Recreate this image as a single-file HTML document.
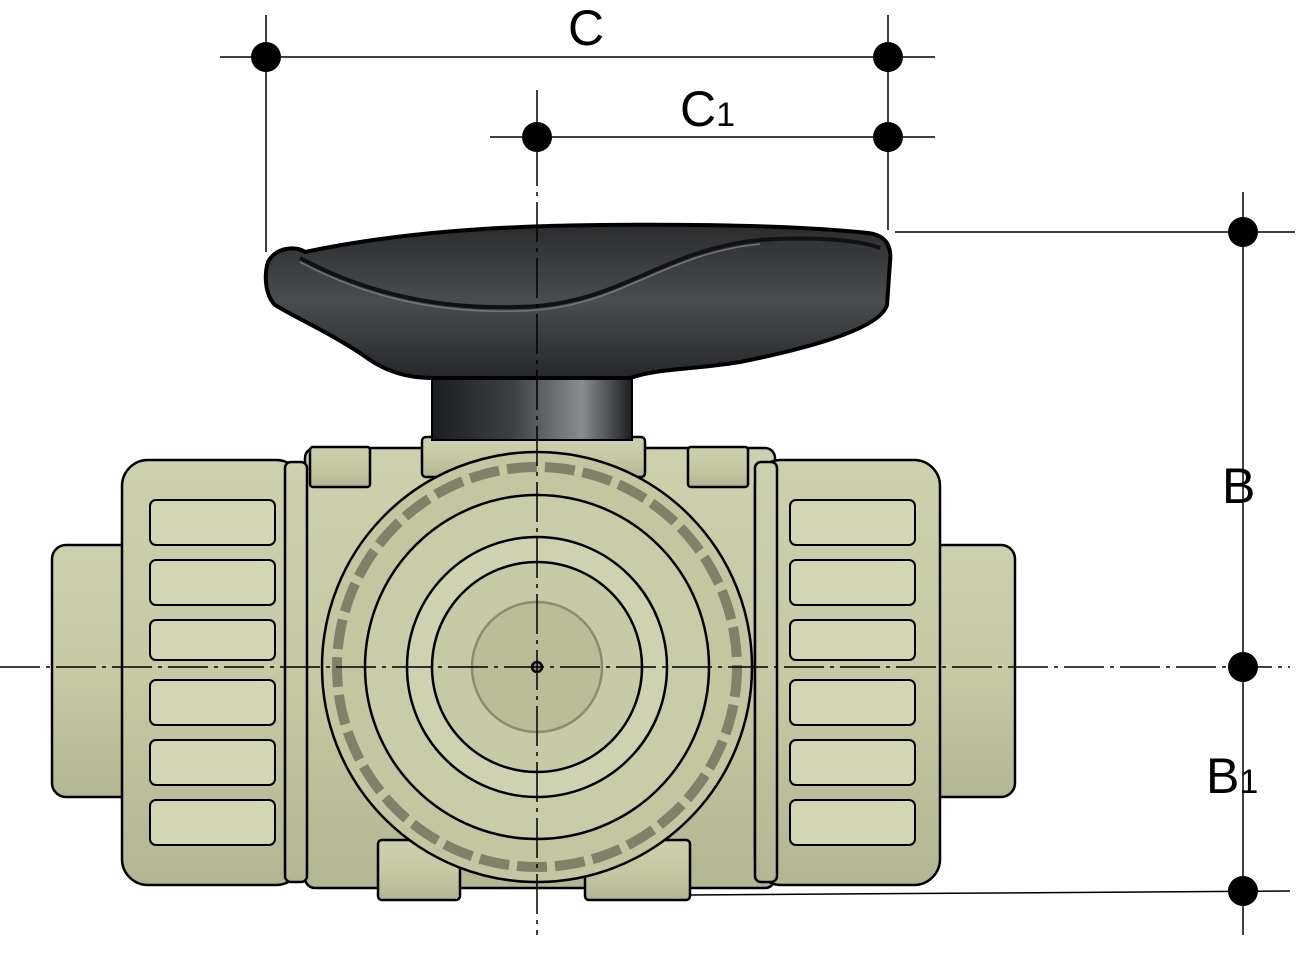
<!DOCTYPE html>
<html><head><style>html,body{margin:0;padding:0;background:#fff}svg{display:block}</style></head>
<body>
<svg width="1313" height="974" viewBox="0 0 1313 974" xmlns="http://www.w3.org/2000/svg">
<defs>
<linearGradient id="hg" x1="0" y1="0" x2="0" y2="1"><stop offset="0" stop-color="#2a2c2e"/><stop offset="0.5" stop-color="#4a4d50"/><stop offset="1" stop-color="#25272a"/></linearGradient>
<linearGradient id="sg" x1="0" y1="0" x2="1" y2="0"><stop offset="0" stop-color="#1c1d1f"/><stop offset="0.4" stop-color="#3d4043"/><stop offset="0.75" stop-color="#8a8d90"/><stop offset="1" stop-color="#1c1d1f"/></linearGradient>
<linearGradient id="bg" x1="0" y1="0" x2="0" y2="1"><stop offset="0" stop-color="#cdd0ae"/><stop offset="0.5" stop-color="#c6c9a4"/><stop offset="1" stop-color="#b3b692"/></linearGradient>
</defs>
<g stroke="#000" stroke-width="2.5" fill="url(#bg)">
<!-- end tubes -->
<rect x="52" y="545" width="90" height="252" rx="14"/>
<rect x="925" y="545" width="90" height="252" rx="14"/>
<!-- central body -->
<rect x="305" y="448" width="470" height="440" rx="10"/>
<rect x="378" y="840" width="82" height="60" rx="4"/>
<rect x="585" y="840" width="105" height="60" rx="4"/>
<!-- nuts -->
<rect x="122" y="460" width="180" height="425" rx="26"/>
<rect x="755" y="460" width="185" height="425" rx="26"/>
<rect x="285" y="462" width="22" height="420" rx="6"/>
<rect x="755" y="462" width="22" height="420" rx="6"/>
<!-- top nub -->
<rect x="422" y="437" width="223" height="40" rx="4"/>
<rect x="310" y="447" width="60" height="40" rx="3"/>
<rect x="688" y="447" width="60" height="40" rx="3"/>
</g>
<!-- nut ribs -->
<g stroke="#000" stroke-width="2" fill="#d3d6b4">
<rect x="150" y="500" width="125" height="45" rx="6"/>
<rect x="150" y="560" width="125" height="45" rx="6"/>
<rect x="150" y="620" width="125" height="40" rx="6"/>
<rect x="150" y="680" width="125" height="45" rx="6"/>
<rect x="150" y="740" width="125" height="45" rx="6"/>
<rect x="150" y="800" width="125" height="45" rx="6"/>
<rect x="790" y="500" width="125" height="45" rx="6"/>
<rect x="790" y="560" width="125" height="45" rx="6"/>
<rect x="790" y="620" width="125" height="40" rx="6"/>
<rect x="790" y="680" width="125" height="45" rx="6"/>
<rect x="790" y="740" width="125" height="45" rx="6"/>
<rect x="790" y="800" width="125" height="45" rx="6"/>
</g>
<!-- gear -->
<g stroke="#000" stroke-width="2.5">
<circle cx="537" cy="667" r="215" fill="#c3c6a1"/>
<circle cx="537" cy="667" r="200" fill="none" stroke-dasharray="30 8" stroke-width="10" stroke-opacity="0.35"/>
<circle cx="537" cy="667" r="172" fill="#c9cca8"/>
<circle cx="537" cy="667" r="130" fill="#cfd2b0"/>
<circle cx="537" cy="667" r="105" fill="#c7caa6"/>
<circle cx="537" cy="667" r="65" fill="#babd98" stroke="#8a8d70"/>
<circle cx="537" cy="667" r="5" fill="#888"/>
</g>
<!-- handle -->
<rect x="432" y="365" width="200" height="75" fill="url(#sg)" stroke="#000" stroke-width="2"/>
<path d="M268,262 C275,248 295,245 305,252 C400,232 500,226 600,225 C700,224 800,226 868,233 C885,235 892,245 890,262 L887,305 C880,330 800,350 740,362 C690,370 660,368 630,378 L432,378 C405,378 385,370 370,360 C340,338 300,320 275,305 C265,295 264,275 268,262 Z" fill="url(#hg)" stroke="#000" stroke-width="4"/>
<path d="M300,258 C360,290 430,310 520,307 C620,305 660,250 760,240 C810,236 860,240 880,248" fill="none" stroke="#111" stroke-width="4"/>
<path d="M300,258 C360,290 430,310 520,307 C620,305 660,250 760,240" fill="none" stroke="#777" stroke-width="1.5" transform="translate(0,4)"/>
<!-- dimension lines -->
<g stroke="#000" stroke-width="1.5" fill="none">
<line x1="220" y1="57" x2="935" y2="57"/>
<line x1="490" y1="137" x2="935" y2="137"/>
<line x1="266" y1="15" x2="266" y2="252"/>
<line x1="888" y1="15" x2="888" y2="230"/>
<line x1="895" y1="232" x2="1295" y2="232"/>
<line x1="1243" y1="192" x2="1243" y2="935"/>
<line x1="690" y1="895" x2="1290" y2="891"/>
<line x1="0" y1="667" x2="1290" y2="667" stroke-dasharray="40 6 4 6"/>
<line x1="537" y1="90" x2="537" y2="935" stroke-dasharray="40 6 4 6"/>
</g>
<g fill="#000">
<circle cx="266" cy="57" r="15"/><circle cx="888" cy="57" r="15"/>
<circle cx="537" cy="137" r="15"/><circle cx="888" cy="137" r="15"/>
<circle cx="1243" cy="232" r="15"/><circle cx="1243" cy="667" r="15"/><circle cx="1243" cy="891" r="15"/>
</g>
<g font-family="Liberation Sans, sans-serif" fill="#000">
<text x="568" y="45" font-size="50">C</text>
<text x="680" y="126" font-size="50">C<tspan font-size="34">1</tspan></text>
<text x="1222" y="503" font-size="50">B</text>
<text x="1206" y="793" font-size="50">B<tspan font-size="34">1</tspan></text>
</g>
</svg>
</body></html>
